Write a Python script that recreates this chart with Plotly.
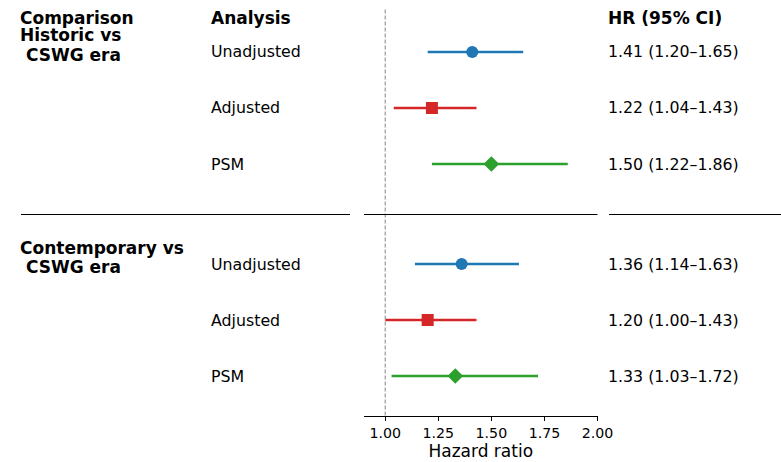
import plotly.graph_objects as go

# ---- data ----
analyses = ["Unadjusted", "Adjusted", "PSM"]
group_lines = [["Historic vs", "\u00a0CSWG era"], ["Contemporary vs", "\u00a0CSWG era"]]
hr_hist = [1.41, 1.22, 1.50]
lo_hist = [1.20, 1.04, 1.22]
hi_hist = [1.65, 1.43, 1.86]
hr_cont = [1.36, 1.20, 1.33]
lo_cont = [1.14, 1.00, 1.03]
hi_cont = [1.63, 1.43, 1.72]
tick_vals = [1.00, 1.25, 1.50, 1.75, 2.00]
tick_text = ["1.00", "1.25", "1.50", "1.75", "2.00"]

colors = ["#1f77b4", "#d62728", "#2ca02c"]
symbols = ["circle", "square", "diamond"]

W, H = 781, 462
FONT = "DejaVu Sans"

# layout geometry (pixels)
row_px0 = 52.0
row_step = 56.0
group_gap = 3.786
ax_left, ax_right = 364.0, 597.5
ax_top, ax_bottom = 8.0, 415.5

def px_to_y(p):
    return (p - row_px0) / row_step

def px_x(p):
    return p / W

def px_yp(p):
    return 1 - p / H

row_y = [[0, 1, 2], [group_gap + i for i in range(3)]]
data = [(hr_hist, lo_hist, hi_hist), (hr_cont, lo_cont, hi_cont)]

fig = go.Figure()
for g in range(2):
    hr, lo, hi = data[g]
    for i in range(3):
        fig.add_trace(go.Scatter(
            x=[hr[i]], y=[row_y[g][i]], mode="markers",
            marker=dict(symbol=symbols[i], size=12, color=colors[i],
                        line=dict(width=0)),
            error_x=dict(type="data", symmetric=False,
                         array=[hi[i] - hr[i]], arrayminus=[hr[i] - lo[i]],
                         color=colors[i], thickness=2.4, width=0),
            showlegend=False, hoverinfo="skip",
        ))

annotations = []
def add_text(text, x_px, y, bold=False, size=15.8, yref="y"):
    annotations.append(dict(
        text=f"<b>{text}</b>" if bold else text,
        x=px_x(x_px), xref="paper", y=y, yref=yref,
        xanchor="left", yanchor="middle", showarrow=False,
        borderpad=0, borderwidth=0,
        font=dict(family=FONT, size=size, color="#000000"),
    ))

# headers
add_text("Comparison", 20, px_yp(18.3), bold=True, size=17, yref="paper")
add_text("Analysis", 211, px_yp(18.3), bold=True, size=17, yref="paper")
add_text("HR (95% CI)", 608, px_yp(18.3), bold=True, size=17, yref="paper")

# group labels
group_centers = [[35.3, 55.5], [247.5, 266.5]]
for g in range(2):
    for k, line in enumerate(group_lines[g]):
        add_text(line, 20, px_yp(group_centers[g][k]), bold=True, size=17, yref="paper")

# analysis labels and HR text
for g in range(2):
    hr, lo, hi = data[g]
    for i in range(3):
        add_text(analyses[i], 211, row_y[g][i])
        add_text(f"{hr[i]:.2f} ({lo[i]:.2f}\u2013{hi[i]:.2f})", 608, row_y[g][i])

sep_px = 214.5
shapes = [
    dict(type="line", xref="x", yref="y domain", x0=1, x1=1, y0=0, y1=1,
         line=dict(color="#999999", width=1.2, dash="4px,2px")),
]
for (a, b) in [(21, 350), (ax_left, ax_right), (609, 781)]:
    shapes.append(dict(type="line", xref="paper", yref="paper",
                       x0=px_x(a), x1=px_x(b), y0=px_yp(sep_px), y1=px_yp(sep_px),
                       line=dict(color="#000000", width=1)))

y_top = px_to_y(ax_top)
y_bot = px_to_y(ax_bottom)

fig.update_layout(
    width=W, height=H,
    margin=dict(l=0, r=0, t=0, b=0),
    paper_bgcolor="white", plot_bgcolor="white",
    annotations=annotations, shapes=shapes,
    xaxis=dict(
        domain=[px_x(ax_left), px_x(ax_right)],
        range=[0.9, 2.0], tickvals=tick_vals, ticktext=tick_text,
        showline=True, linecolor="#000000", linewidth=1,
        ticks="outside", ticklen=4, tickwidth=1, tickcolor="#000000",
        showgrid=False, zeroline=False,
        tickfont=dict(family=FONT, size=14.2, color="#000000"),
        title=dict(text="Hazard ratio", standoff=4,
                   font=dict(family=FONT, size=17, color="#000000")),
        automargin=False,
    ),
    yaxis=dict(
        domain=[px_yp(ax_bottom), px_yp(ax_top)],
        range=[y_bot, y_top], visible=False, showgrid=False, zeroline=False,
    ),
    font=dict(family=FONT),
)

fig.write_html("out.html")
